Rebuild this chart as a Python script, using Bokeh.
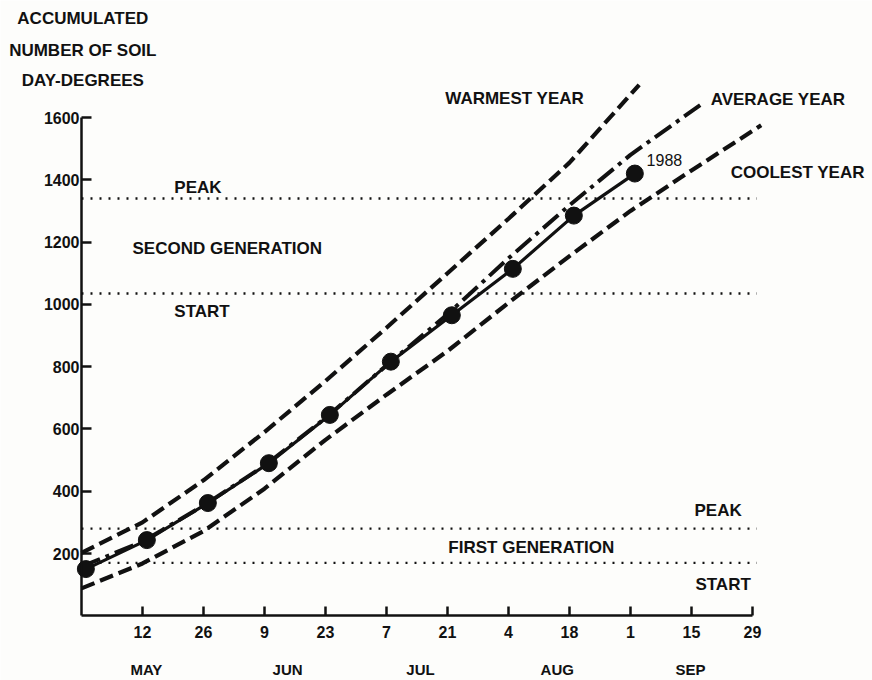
from bokeh.plotting import figure
from bokeh.models import FixedTicker, LinearAxis, Label, ColumnDataSource, Range1d
from bokeh.core.properties import value
from bokeh.embed import file_html
from bokeh.resources import INLINE

# x values are days counted from April 28
tick_days = [14, 28, 42, 56, 70, 84, 98, 112, 126, 140, 154]
tick_labels = ["12", "26", "9", "23", "7", "21", "4", "18", "1", "15", "29"]
month_days = [14.9, 47.3, 77.8, 109.2, 139.8]
month_labels = ["MAY", "JUN", "JUL", "AUG", "SEP"]
y_ticks = [200, 400, 600, 800, 1000, 1200, 1400, 1600]

obs_days = [1, 15, 29, 43, 57, 71, 85, 99, 113, 127]
obs_1988 = [150, 243, 362, 490, 645, 816, 965, 1114, 1285, 1420]

warm_days = [0, 14, 28, 42, 56, 70, 84, 98, 112, 128]
warm_vals = [202, 300, 435, 590, 754, 925, 1100, 1275, 1455, 1705]

avg_days = [0, 14, 28, 42, 56, 70, 84, 98, 112, 126, 142]
avg_vals = [158, 238, 354, 482, 635, 804, 968, 1148, 1318, 1480, 1640]

cool_days = [0, 14, 28, 42, 56, 70, 84, 98, 112, 126, 140, 156]
cool_vals = [88, 168, 272, 408, 565, 710, 850, 1005, 1155, 1300, 1430, 1575]

# generation thresholds: first start, first peak, second start, second peak
thresholds = [170, 280, 1035, 1340]
threshold_end = 155

curve_labels = ["WARMEST YEAR", "AVERAGE YEAR", "COOLEST YEAR"]
curve_label_x = [83.5, 144.4, 149.0]
curve_label_y = [1661, 1658, 1423]

zone_labels = ["PEAK", "SECOND GENERATION", "START", "PEAK", "FIRST GENERATION", "START"]
zone_label_x = [21.3, 11.7, 21.3, 140.7, 84.2, 140.9]
zone_label_y = [1375, 1179, 977, 338, 219, 101]

title_lines = ["ACCUMULATED", "NUMBER OF SOIL", "DAY-DEGREES"]
title_y = [1918, 1815, 1719]

FONT = "Liberation Sans"
INK = "#111111"
BG = "#fdfdfb"

p = figure(width=872, height=680, output_backend="svg", toolbar_location=None,
           x_range=Range1d(-18.59, 181.55), y_range=Range1d(-207.8, 1975.7),
           x_axis_location=None, y_axis_location=None,
           min_border_left=0, min_border_right=0, min_border_top=0, min_border_bottom=0)
p.outline_line_color = None
p.xgrid.visible = False
p.ygrid.visible = False
p.background_fill_color = BG
p.border_fill_color = BG

# y axis at x = 0
yax = LinearAxis(ticker=FixedTicker(ticks=y_ticks), bounds=(0, 1600), fixed_location=0)
yax.axis_line_width = 2.5
yax.axis_line_color = INK
yax.major_tick_in = 10
yax.major_tick_out = 0
yax.major_tick_line_width = 2.5
yax.major_tick_line_color = INK
yax.minor_tick_line_color = None
yax.major_label_standoff = 2
yax.major_label_text_font = FONT
yax.major_label_text_font_style = "bold"
yax.major_label_text_font_size = "16px"
yax.major_label_text_color = INK
p.add_layout(yax, "left")

# x axis with day ticks at y = 0
xax = LinearAxis(ticker=FixedTicker(ticks=tick_days), bounds=(0, 154), fixed_location=0,
                 major_label_overrides={d: l for d, l in zip(tick_days, tick_labels)})
xax.axis_line_width = 2.5
xax.axis_line_color = INK
xax.major_tick_in = 9
xax.major_tick_out = 0
xax.major_tick_line_width = 2.5
xax.major_tick_line_color = INK
xax.minor_tick_line_color = None
xax.major_label_standoff = 10
xax.major_label_text_font = FONT
xax.major_label_text_font_style = "bold"
xax.major_label_text_font_size = "16px"
xax.major_label_text_color = INK
p.add_layout(xax, "below")

# month axis
max_ = LinearAxis(ticker=FixedTicker(ticks=month_days), fixed_location=0,
                  major_label_overrides={d: l for d, l in zip(month_days, month_labels)})
max_.axis_line_color = None
max_.major_tick_line_color = None
max_.minor_tick_line_color = None
max_.major_label_standoff = 39
max_.major_label_text_font = FONT
max_.major_label_text_font_style = "bold"
max_.major_label_text_font_size = "15px"
max_.major_label_text_color = INK
p.add_layout(max_, "below")

# threshold dotted lines
p.segment(x0=[0] * len(thresholds), y0=thresholds,
          x1=[threshold_end] * len(thresholds), y1=thresholds,
          line_color=INK, line_width=2.4, line_dash="2 7")

# curves
p.line(warm_days, warm_vals, line_color=INK, line_width=4.2, line_dash="14 6")
p.line(cool_days, cool_vals, line_color=INK, line_width=4.2, line_dash="14 6")
p.line(avg_days, avg_vals, line_color=INK, line_width=4.0, line_dash="20 6 4 6")
p.line(obs_days, obs_1988, line_color=INK, line_width=3.2)
p.scatter(obs_days, obs_1988, size=17, fill_color=INK, line_color=INK)

# labels
cl = ColumnDataSource(dict(x=curve_label_x, y=curve_label_y, t=curve_labels))
p.text(x="x", y="y", text="t", source=cl, text_font=value(FONT), text_font_style="bold",
       text_font_size="17px", text_baseline="middle", text_align="left", text_color=INK)

zl = ColumnDataSource(dict(x=zone_label_x, y=zone_label_y, t=zone_labels))
p.text(x="x", y="y", text="t", source=zl, text_font=value(FONT), text_font_style="bold",
       text_font_size="17px", text_baseline="middle", text_align="left", text_color=INK)

p.text(x=[129.7], y=[1462], text=["1988"], text_font=value(FONT),
       text_font_size="16px", text_baseline="middle", text_align="left", text_color=INK)

for t, yy in zip(title_lines, title_y):
    p.add_layout(Label(x=0.3, y=yy, text=t, text_font=FONT, text_font_style="bold",
                       text_font_size="17px", text_align="center", text_baseline="middle",
                       text_color=INK))

open("out.html", "w").write(file_html(p, INLINE))
